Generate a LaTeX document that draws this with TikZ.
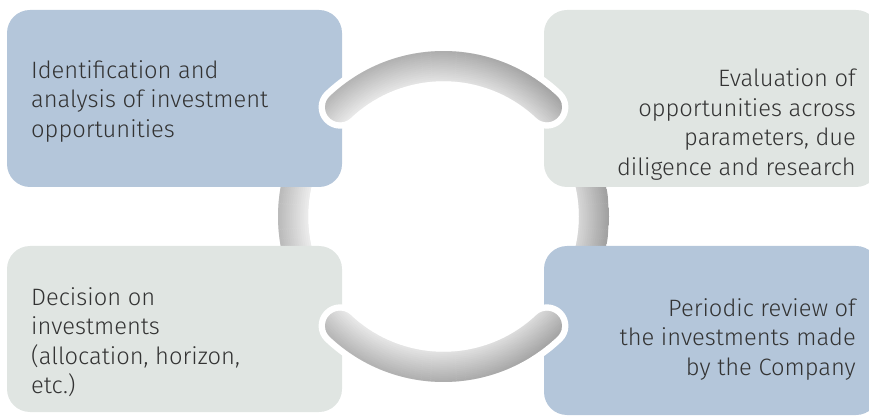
\documentclass[tikz,border=0pt]{standalone}
\usepackage{fontspec}
\setmainfont{Fira Sans}[UprightFont=* Light]
\definecolor{boxblue}{HTML}{B4C6DA}
\definecolor{boxgray}{HTML}{E0E5E2}
\definecolor{txt}{HTML}{333333}
\definecolor{rdark}{HTML}{B0B0B0}
\definecolor{rlight}{HTML}{F0F0F0}
\newcommand\ringsector[2]{%
  (443.5,216.5) ++(#1:135.5) arc[start angle=#1, end angle=#2, radius=135.5]
  arc[start angle=#2+180, end angle=#2, radius=15]
  arc[start angle=#2, end angle=#1, radius=165.5]
  arc[start angle=#1, end angle=#1-180, radius=15] -- cycle}
\newcommand\ringpiece[2]{%
  \begin{scope}
    \clip \ringsector{#1}{#2};
    \fill[rlight] (275,45) rectangle (612,390);
    \foreach \i in {0,...,15}{
      \pgfmathsetmacro\pct{100-\i*6.25}
      \draw[line width=2.4pt, rlight!\pct!rdark] (443.5,216.5) circle ({134.5+\i*2});
    }
    \shade[left color=white, right color=black, opacity=0.10] (275,45) rectangle (612,390);
  \end{scope}}
\tikzset{
  box/.style={rounded corners=23pt, minimum width=335pt, inner sep=0pt, outer sep=0pt},
  label/.style={font=\fontsize{23.7}{29.5}\selectfont, text=txt, inner sep=0pt}
}
\begin{document}
\begin{tikzpicture}[x=1pt, y=-1pt]
\useasboundingbox (0,0) rectangle (869,419);
\clip (0,0) rectangle (869,419);
% side pieces of the ring, behind the boxes
\ringpiece{150}{210}
\ringpiece{-30}{30}
% boxes
\node[box, fill=boxblue, minimum height=177pt] (tl) at (174.5,98.5) {};
\node[box, fill=boxgray, minimum height=177pt] (tr) at (711.5,98.5) {};
\node[box, fill=boxgray, minimum height=166pt] (bl) at (174.5,329) {};
\node[box, fill=boxblue, minimum height=169pt] (br) at (711.5,330.5) {};
% top and bottom pieces of the ring, in front, with white halo
\fill[white, draw=white, line width=13pt, line join=round] \ringsector{226.6}{313.4};
\ringpiece{226.6}{313.4}
\fill[white, draw=white, line width=13pt, line join=round] \ringsector{46.6}{133.4};
\ringpiece{46.6}{133.4}
% texts
\node[label, anchor=west, align=left] (ttl) at (31,101.5)
  {Identification and\\analysis of investment\\opportunities};
\node[label, anchor=east, align=right] (ttr) at (856,124.5)
  {Evaluation of\\opportunities across\\parameters, due\\diligence and research};
\node[label, anchor=west, align=left] (tbl) at (31,342)
  {Decision on\\investments\\(allocation, horizon,\\etc.)};
\node[label, anchor=east, align=right] (tbr) at (856,339.5)
  {Periodic review of\\the investments made\\by the Company};
\end{tikzpicture}
\end{document}
